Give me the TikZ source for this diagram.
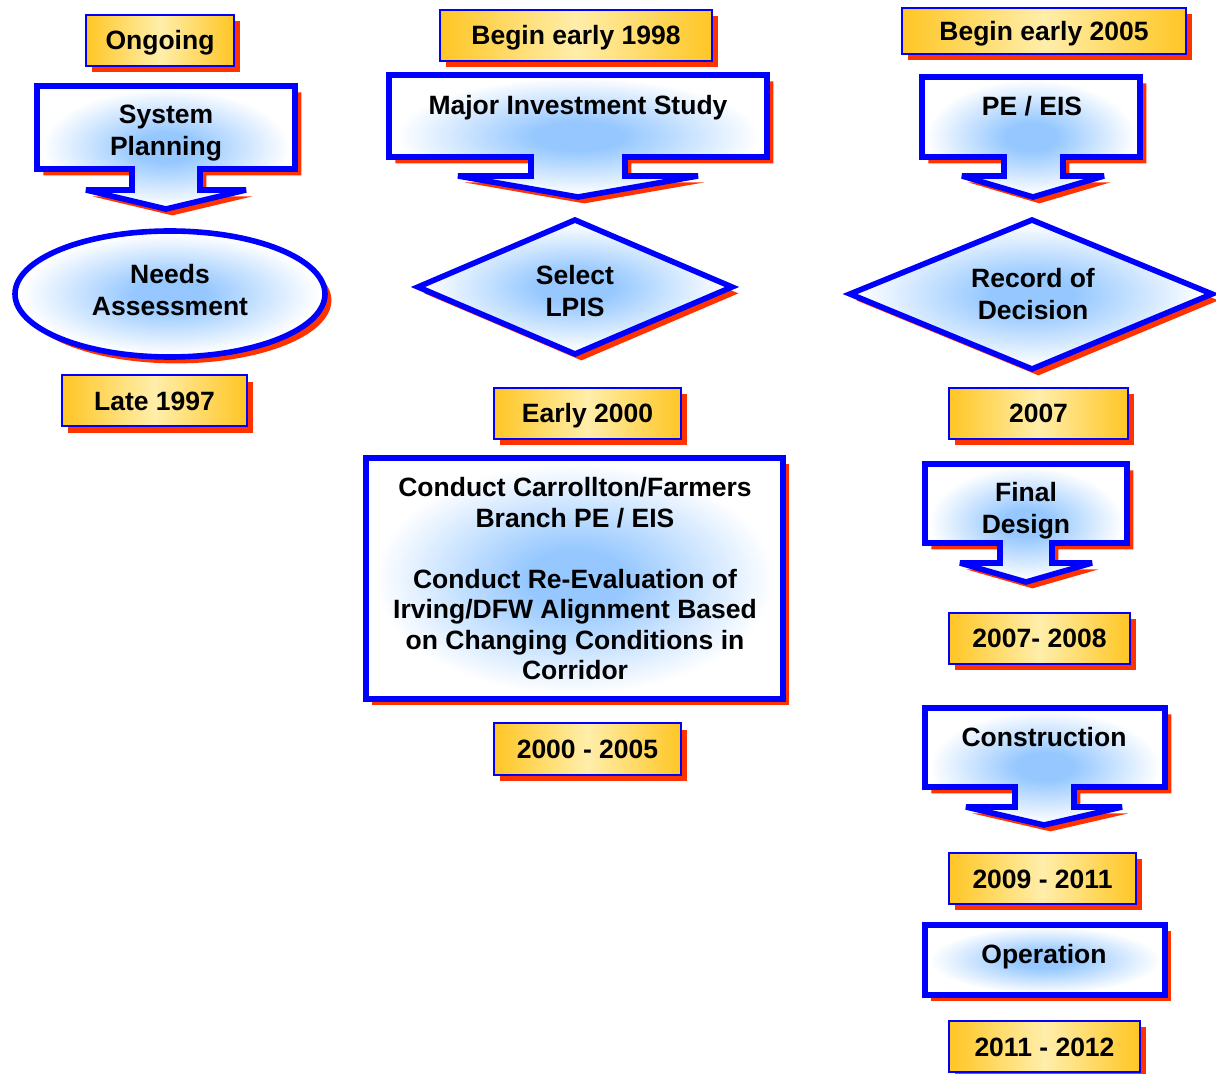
\documentclass[tikz,border=0pt]{standalone}
\usepackage{fontspec}
\setmainfont{Liberation Sans}
\usetikzlibrary{shadows}
\definecolor{frameblue}{RGB}{0,0,255}
\definecolor{shadowred}{RGB}{255,51,0}
\definecolor{glowblue}{RGB}{150,200,255}
\definecolor{dategold}{RGB}{255,198,36}
\definecolor{datecream}{RGB}{255,238,170}
\pgfdeclareradialshading{glow}{\pgfpoint{0bp}{0bp}}{color(0bp)=(glowblue); color(6bp)=(glowblue); color(24bp)=(white); color(50bp)=(white)}

\begin{document}
\begin{tikzpicture}[x=0.5pt, y=-0.5pt,
  every node/.style={font=\fontsize{13.25}{15.8}\selectfont\bfseries},
  redshadow/.style={drop shadow={shadow xshift=3.2pt, shadow yshift=-3.2pt, fill=shadowred, opacity=1}},
  callout/.style={draw=frameblue, line width=2.8pt, miter limit=3, shade, shading=glow, redshadow},
  datebox/.style={draw=frameblue, line width=1pt, left color=dategold, right color=dategold, middle color=datecream, minimum height=25.5pt, inner sep=0pt, text height=9.5pt, text depth=0pt, redshadow},
  lbl/.style={anchor=north, inner sep=0pt, align=center}]
\useasboundingbox (0,0) rectangle (1216,1074);
% left column
\draw[callout] (37,86) -- (295,86) -- (295,169) -- (200,169) -- (200,190) -- (246,190) -- (166,209) -- (86,190) -- (132,190) -- (132,169) -- (37,169) -- cycle;
\draw[callout] (170,294) ellipse [x radius=155, y radius=63];
\node[datebox, minimum width=74pt] (ongoing) at (160,40.5) {Ongoing};
\node[datebox, minimum width=92.5pt] (late97) at (154.5,401) {Late 1997};
\node[lbl] (sysplan) at (166,105) {System\\Planning};
\node[lbl] (needs) at (170,264) {Needs\\Assessment};
% middle column
\draw[callout] (389,75) -- (767,75) -- (767,157) -- (625,157) -- (625,176) -- (698,176) -- (578,197) -- (458,176) -- (531,176) -- (531,157) -- (389,157) -- cycle;
\draw[callout] (418,287) -- (575,220) -- (732,287) -- (575,354) -- cycle;
\draw[callout] (366,458) rectangle (783,699);
\node[datebox, minimum width=136pt] (begin98) at (576,35.5) {Begin early 1998};
\node[datebox, minimum width=93.5pt] (early00) at (587.5,413.5) {Early 2000};
\node[datebox, minimum width=93.5pt] (span0005) at (587.5,749) {2000 - 2005};
\node[lbl] (mis) at (578,95) {Major Investment Study};
\node[lbl] (lpis) at (575,265) {Select\\LPIS};
\node[lbl, font={\fontsize{13.25}{15.25}\selectfont\bfseries}] (carrollton) at (575,477)
  {Conduct Carrollton/Farmers\\Branch PE / EIS\\[15.25pt]Conduct Re-Evaluation of\\Irving/DFW Alignment Based\\on Changing Conditions in\\Corridor};
% right column
\draw[callout] (922,77) -- (1140,77) -- (1140,157) -- (1063,157) -- (1063,176) -- (1104,176) -- (1033,197) -- (962,176) -- (1004,176) -- (1004,157) -- (922,157) -- cycle;
\draw[callout] (850,294) -- (1032,220) -- (1212,294) -- (1032,369) -- cycle;
\draw[callout] (925,464) -- (1127,464) -- (1127,543) -- (1052,543) -- (1052,563) -- (1092,563) -- (1026,582) -- (960,563) -- (1000,563) -- (1000,543) -- (925,543) -- cycle;
\draw[callout] (925,708) -- (1165,708) -- (1165,787) -- (1074,787) -- (1074,807) -- (1122,807) -- (1044,825) -- (966,807) -- (1015,807) -- (1015,787) -- (925,787) -- cycle;
\draw[callout] (925,925) rectangle (1165,995);
\node[datebox, minimum width=142pt, minimum height=23pt] (begin05) at (1044,31) {Begin early 2005};
\node[datebox, minimum width=89.5pt] (y07) at (1038.5,413.5) {2007};
\node[datebox, minimum width=90.5pt] (span0708) at (1039.5,638.5) {2007- 2008};
\node[datebox, minimum width=93.5pt] (span0911) at (1042.5,878.5) {2009 - 2011};
\node[datebox, minimum width=95.5pt] (span1112) at (1044.5,1046.5) {2011 - 2012};
\node[lbl] (peeis) at (1032,96) {PE / EIS};
\node[lbl] (rod) at (1033,268) {Record of\\Decision};
\node[lbl] (finaldes) at (1026,482) {Final\\Design};
\node[lbl] (construct) at (1044,727) {Construction};
\node[lbl] (operate) at (1044,944) {Operation};
\end{tikzpicture}
\end{document}
